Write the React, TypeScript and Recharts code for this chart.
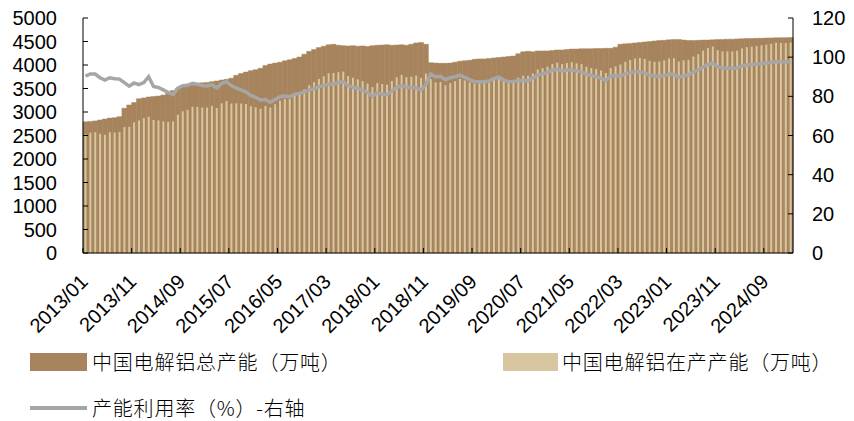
import React from 'react';
import { ComposedChart, Bar, Line, XAxis, YAxis } from 'recharts';

// ---- data ----
const months: string[] = [];
for (let y = 2013; y <= 2025; y++) {
  for (let m = 1; m <= 12; m++) {
    if (y === 2025 && m > 2) break;
    months.push(`${y}/${m < 10 ? '0' + m : m}`);
  }
}

const totalCapacity = [
  2790, 2800, 2810, 2830, 2850, 2870, 2880, 2900, 3080, 3150,
  3200, 3280, 3300, 3320, 3330, 3340, 3360, 3400, 3460, 3500,
  3530, 3560, 3590, 3610, 3620, 3630, 3645, 3660, 3680, 3695,
  3720, 3780, 3820, 3850, 3880, 3900, 3930, 3990, 4020, 4040,
  4060, 4090, 4110, 4140, 4170, 4230, 4290, 4330, 4370, 4400,
  4430, 4440, 4420, 4410, 4405, 4410, 4400, 4405, 4395, 4410,
  4420, 4425, 4430, 4420, 4425, 4430, 4420, 4440, 4470, 4480,
  4440, 4050, 4040, 4035, 4035, 4040, 4060, 4080, 4090, 4100,
  4120, 4130, 4130, 4140, 4150, 4160, 4170, 4180, 4190, 4240,
  4280, 4290, 4280, 4300, 4300, 4300, 4310, 4320, 4320, 4330,
  4340, 4340, 4345, 4345, 4345, 4350, 4350, 4355, 4355, 4380,
  4440, 4450, 4460, 4470, 4480, 4490, 4500, 4510, 4520, 4525,
  4535, 4540, 4545, 4530, 4520, 4520, 4525, 4530, 4530, 4535,
  4540, 4545, 4548, 4550, 4555, 4560, 4565, 4565, 4568, 4570,
  4572, 4575, 4578, 4580, 4582, 4585,
];

const runningCapacity = [
  2520, 2560, 2570, 2535, 2515, 2570, 2565, 2575, 2680, 2685,
  2780, 2820, 2870, 2900, 2830, 2820, 2800, 2790, 2800, 2945,
  3015, 3045, 3110, 3110, 3095, 3095, 3130, 3085, 3185, 3235,
  3180, 3185, 3180, 3170, 3125, 3100, 3070, 3130, 3095, 3165,
  3240, 3280, 3280, 3355, 3400, 3480, 3570, 3635, 3705, 3760,
  3825, 3830, 3845, 3860, 3765, 3730, 3695, 3655, 3605, 3530,
  3615, 3595, 3580, 3660, 3740, 3790, 3740, 3750, 3775, 3725,
  3820, 3700, 3630, 3640, 3570, 3615, 3655, 3705, 3670, 3630,
  3605, 3615, 3615, 3635, 3695, 3735, 3680, 3660, 3670, 3730,
  3775, 3770, 3820, 3905, 3935, 3965, 4020, 4050, 4020, 4045,
  4060, 4035, 4020, 3965, 3935, 3915, 3885, 3830, 3935, 3970,
  4010, 4070, 4105, 4140, 4150, 4130, 4090, 4070, 4075, 4100,
  4140, 4145, 4075, 4100, 4110, 4180, 4230, 4305, 4360, 4395,
  4315, 4290, 4290, 4290, 4305, 4355, 4380, 4390, 4405, 4420,
  4435, 4450, 4475, 4470, 4465, 4480,
];

const utilization = [
  90.3, 91.4, 91.4, 89.5, 88.3, 89.5, 89.0, 88.8, 87.0, 85.2,
  86.8, 86.0, 87.0, 90.0, 85.0, 84.5, 83.3, 82.0, 80.9, 84.2,
  85.4, 85.6, 86.6, 86.2, 85.5, 85.3, 85.9, 84.3, 86.6, 87.5,
  85.5, 84.2, 83.3, 82.3, 80.5, 79.5, 78.1, 78.4, 77.0, 78.3,
  79.8, 80.2, 79.8, 81.0, 81.5, 82.3, 83.2, 84.0, 84.8, 85.5,
  86.3, 86.3, 87.0, 87.5, 85.5, 84.6, 84.0, 83.0, 82.0, 80.0,
  81.8, 81.2, 80.8, 82.8, 84.5, 85.5, 84.6, 84.5, 84.4, 83.2,
  86.0, 91.4, 89.9, 90.2, 88.5, 89.5, 90.0, 90.8, 89.7, 88.5,
  87.5, 87.5, 87.5, 87.8, 89.0, 89.8, 88.3, 87.5, 87.6, 88.0,
  88.2, 87.9, 89.2, 90.8, 91.5, 92.2, 93.3, 93.8, 93.0, 93.4,
  93.5, 93.0, 92.5, 91.2, 90.6, 90.0, 89.3, 88.0, 90.3, 90.6,
  90.3, 91.5, 92.0, 92.6, 92.6, 92.0, 90.9, 90.2, 90.2, 90.6,
  91.3, 91.3, 89.7, 90.5, 90.9, 92.5, 93.5, 95.0, 96.2, 96.9,
  95.0, 94.4, 94.3, 94.3, 94.5, 95.5, 96.0, 96.2, 96.4, 96.7,
  97.0, 97.3, 97.8, 97.6, 97.5, 97.7,
];

const leftTicks = [0, 500, 1000, 1500, 2000, 2500, 3000, 3500, 4000, 4500, 5000];
const rightTicks = [0, 20, 40, 60, 80, 100, 120];

const seriesNames = ['中国电解铝总产能（万吨）', '中国电解铝在产产能（万吨）', '产能利用率（%）-右轴'];

// ---- layout / style ----
const W = 854;
const H = 421;
const PLOT_LEFT = 83;
const PLOT_RIGHT = 793;
const PLOT_TOP = 18;
const PLOT_BOTTOM = 253;
const BAND = (PLOT_RIGHT - PLOT_LEFT) / months.length;
const RUN_BAR_W = 2;

const DARK = '#A7845D';
const LIGHT = '#D8C6A0';
const GREY = '#A6A6A6';
const NUM_FONT = '"Liberation Sans", Arial, sans-serif';
const CJK_FONT = '"Noto Sans CJK SC", "Noto Sans", sans-serif';

const data = months.map((m, i) => ({
  m,
  total: totalCapacity[i],
  running: runningCapacity[i],
  util: utilization[i],
}));

const XTick = (props: any) => {
  const { x, y, payload } = props;
  const tx = x - BAND / 2;
  const px = tx + 6;
  const py = y + 30;
  return (
    <g>
      <line x1={tx} y1={y} x2={tx} y2={y - 5} stroke="#000" strokeWidth={1} />
      <text
        x={px}
        y={py}
        transform={`rotate(-45 ${px} ${py})`}
        textAnchor="end"
        fontSize={20}
        fontFamily={NUM_FONT}
        fill="#000"
      >
        {payload.value}
      </text>
    </g>
  );
};

const RunningBar = (props: any) => {
  const { x, y, width, height } = props;
  if (height == null || isNaN(height)) return null;
  const cx = x + width / 2;
  return <rect x={cx - RUN_BAR_W / 2} y={y} width={RUN_BAR_W} height={height} fill={LIGHT} />;
};

const legendText: React.CSSProperties = {
  position: 'absolute',
  height: 26,
  lineHeight: '26px',
  fontSize: 20,
  fontWeight: 300,
  letterSpacing: 0.8,
  fontFamily: CJK_FONT,
  color: '#000',
  whiteSpace: 'nowrap',
};

export default function App() {
  return (
    <div
      style={{
        position: 'absolute',
        left: 0,
        top: 0,
        width: W,
        height: H,
        background: '#fff',
        overflow: 'hidden',
      }}
    >
      <ComposedChart
        width={W}
        height={H}
        data={data}
        margin={{ top: PLOT_TOP, right: 0, bottom: 0, left: 0 }}
        barCategoryGap={0}
        barGap={0}
      >
        <XAxis
          xAxisId="a"
          dataKey="m"
          interval={9}
          tickLine={false}
          tickSize={0}
          tickMargin={0}
          height={H - PLOT_BOTTOM}
          axisLine={{ stroke: '#000', strokeWidth: 1 }}
          tick={(p: any) => <XTick {...p} />}
        />
        <XAxis xAxisId="b" dataKey="m" hide />
        <YAxis
          yAxisId="l"
          width={PLOT_LEFT}
          domain={[0, 5000]}
          ticks={leftTicks}
          interval={0}
          tickSize={-5}
          tickMargin={31}
          axisLine={{ stroke: '#000', strokeWidth: 1 }}
          tickLine={{ stroke: '#000', strokeWidth: 1 }}
          tick={{ fill: '#000', fontSize: 20, fontFamily: NUM_FONT }}
        />
        <YAxis
          yAxisId="r"
          orientation="right"
          width={W - PLOT_RIGHT}
          domain={[0, 120]}
          ticks={rightTicks}
          interval={0}
          tickSize={-5}
          tickMargin={24}
          axisLine={{ stroke: '#000', strokeWidth: 1 }}
          tickLine={{ stroke: '#000', strokeWidth: 1 }}
          tick={{ fill: '#000', fontSize: 20, fontFamily: NUM_FONT }}
        />
        <Bar
          xAxisId="a"
          yAxisId="l"
          dataKey="total"
          fill={DARK}
          stroke={DARK}
          strokeWidth={0.5}
          isAnimationActive={false}
        />
        <Bar
          xAxisId="b"
          yAxisId="l"
          dataKey="running"
          fill={LIGHT}
          shape={(p: any) => <RunningBar {...p} />}
          isAnimationActive={false}
        />
        <Line
          xAxisId="a"
          yAxisId="r"
          dataKey="util"
          type="linear"
          stroke={GREY}
          strokeWidth={3.5}
          dot={false}
          activeDot={false}
          isAnimationActive={false}
        />
      </ComposedChart>

      {/* legend */}
      <div style={{ position: 'absolute', left: 30, top: 353, width: 57, height: 18, background: DARK }} />
      <div style={{ ...legendText, left: 92, top: 349 }}>{seriesNames[0]}</div>
      <div style={{ position: 'absolute', left: 503, top: 353, width: 55, height: 18, background: LIGHT }} />
      <div style={{ ...legendText, left: 562, top: 349 }}>{seriesNames[1]}</div>
      <div style={{ position: 'absolute', left: 30, top: 406, width: 57, height: 4, background: GREY }} />
      <div style={{ ...legendText, left: 92, top: 395 }}>{seriesNames[2]}</div>
    </div>
  );
}
